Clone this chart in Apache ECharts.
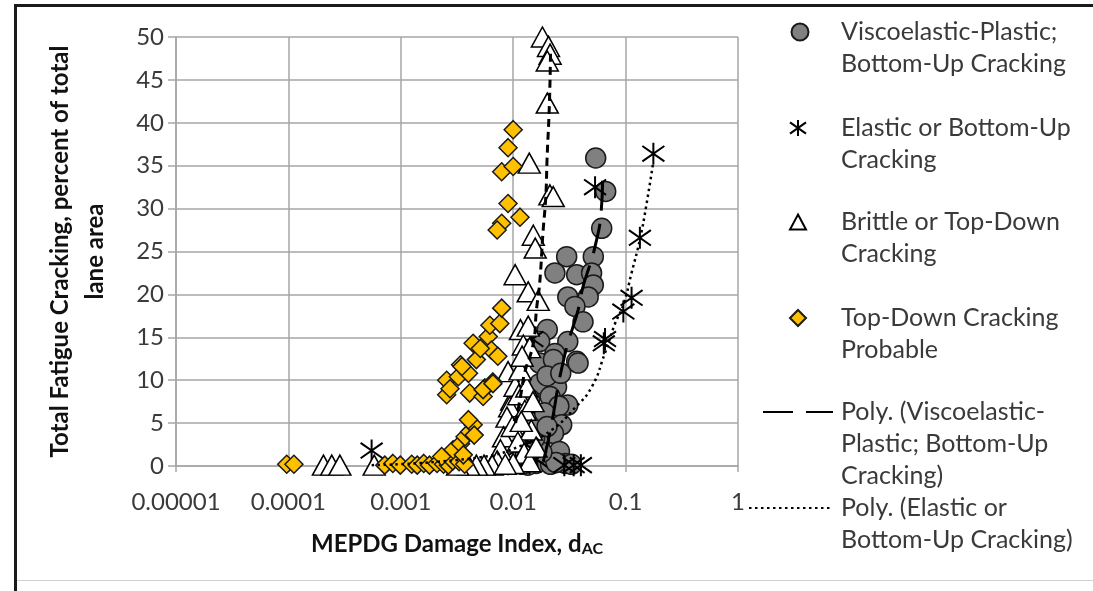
<!DOCTYPE html>
<html>
<head>
<meta charset="utf-8">
<script src="https://cdn.jsdelivr.net/npm/echarts@6/dist/echarts.min.js"></script>
<style>
  html, body { margin: 0; padding: 0; background: #fff; }
  #chart { width: 1093px; height: 591px; }
</style>
</head>
<body>
<div id="chart"></div>
<script>
// tick labels of the log x axis (one per decade)
const xTickLabels = ['0.00001', '0.0001', '0.001', '0.01', '0.1', '1'];

// legend names
const seriesNames = [
  'Viscoelastic-Plastic;\nBottom-Up Cracking',
  'Elastic or Bottom-Up\nCracking',
  'Brittle or Top-Down\nCracking',
  'Top-Down Cracking\nProbable',
  'Poly. (Viscoelastic-\nPlastic; Bottom-Up\nCracking)',
  'Poly. (Elastic or\nBottom-Up Cracking)'
];

// [damage index, cracking %]
const viscoPlastic = [
  [0.0542, 35.9], [0.0665, 32.0], [0.0613, 27.7], [0.0299, 24.4], [0.0516, 24.4],
  [0.0235, 22.5], [0.0367, 22.3], [0.0498, 22.5], [0.0516, 21.1], [0.0306, 19.7],
  [0.0465, 19.7], [0.0354, 18.6], [0.0418, 16.8], [0.0201, 15.9], [0.0306, 14.5],
  [0.0172, 14.5], [0.0235, 13.1], [0.0367, 12.2], [0.0172, 12.0], [0.0228, 12.4],
  [0.0378, 12.0], [0.0172, 9.6], [0.0243, 9.2], [0.0213, 8.1], [0.0306, 7.1],
  [0.0255, 7.0], [0.0270, 4.8], [0.0228, 3.8], [0.0172, 2.6], [0.0258, 1.7],
  [0.0190, 0.8], [0.0160, 0.3], [0.0135, 0.1], [0.0120, 0.2], [0.0215, 0.2],
  [0.0290, 0.3], [0.0150, 4.5], [0.0190, 6.2], [0.0140, 7.8], [0.0200, 10.5],
  [0.0265, 10.8], [0.0330, 0.2], [0.0240, 0.4], [0.0180, 1.6], [0.0155, 3.2],
  [0.0200, 4.6]
];
const elastic = [
  [0.1766, 36.4], [0.0535, 32.5], [0.134, 26.6], [0.113, 19.6], [0.0955, 18.0],
  [0.0656, 14.8], [0.0640, 14.3], [0.0285, 0.1], [0.0345, 0.1], [0.0400, 0.1],
  [0.00055, 1.8], [0.0148, 14.8], [0.0090, 0.2], [0.0105, 0.5], [0.0120, 1.2],
  [0.0130, 2.5], [0.0115, 3.5], [0.0140, 0.3], [0.0160, 0.8], [0.0085, 1.0],
  [0.0125, 7.0]
];
const brittle = [
  [0.000205, 0.1], [0.000243, 0.1], [0.000287, 0.1], [0.00058, 0.1],
  [0.0182, 50.0], [0.0206, 48.9], [0.0213, 48.0], [0.0201, 47.2], [0.0201, 42.3],
  [0.0139, 35.3], [0.0212, 31.6], [0.0227, 31.4], [0.0151, 26.9], [0.0157, 25.4],
  [0.0104, 22.3], [0.0136, 20.3], [0.0167, 19.3], [0.0116, 15.9], [0.0136, 16.3],
  [0.0123, 14.1], [0.0140, 13.8], [0.0090, 11.0], [0.0097, 7.7], [0.0107, 7.6],
  [0.0093, 6.9], [0.0088, 5.7], [0.0082, 3.4], [0.0077, 1.9], [0.0072, 0.6],
  [0.0065, 0.1], [0.0055, 0.1], [0.0047, 0.1], [0.0098, 4.6], [0.0104, 9.3],
  [0.0112, 8.3], [0.0132, 9.2], [0.0127, 6.5], [0.0145, 4.2], [0.0118, 5.2],
  [0.0110, 2.8], [0.0125, 1.5], [0.0140, 0.5], [0.0160, 2.2], [0.0100, 0.3],
  [0.0085, 0.2], [0.0115, 11.2], [0.0120, 12.8], [0.0150, 7.5], [0.0040, 0.1],
  [0.0032, 0.1]
];
const topDown = [
  [0.0000966, 0.2], [0.000112, 0.2],
  [0.00072, 0.1], [0.00085, 0.3], [0.00099, 0.1], [0.00125, 0.2], [0.0014, 0.1],
  [0.0016, 0.3], [0.0018, 0.1], [0.0021, 0.3], [0.0024, 0.2], [0.00265, 0.1],
  [0.0029, 0.6], [0.0033, 0.5], [0.0037, 0.2],
  [0.00231, 1.1], [0.00292, 1.9], [0.0034, 2.6], [0.00373, 3.4], [0.0041, 4.0],
  [0.0044, 4.8], [0.0040, 5.4], [0.0045, 3.6], [0.0036, 1.3],
  [0.00256, 10.0], [0.00256, 8.3], [0.00274, 9.0], [0.00325, 10.4], [0.0034, 11.8],
  [0.0040, 10.8], [0.0041, 8.5], [0.0047, 12.4], [0.0044, 14.3], [0.0056, 9.1],
  [0.0054, 8.1], [0.0060, 15.1], [0.0064, 13.5], [0.0073, 12.8], [0.0066, 9.8],
  [0.0062, 16.4], [0.0076, 16.6], [0.0079, 18.4], [0.0051, 13.7], [0.0035, 11.6],
  [0.0054, 8.9], [0.0066, 9.6],
  [0.0100, 39.2], [0.0090, 37.1], [0.0079, 34.3], [0.0100, 34.9], [0.0090, 30.6],
  [0.0115, 29.0], [0.0079, 28.3], [0.0072, 27.5]
];

// trend lines
const viscoTrend = [
  [0.0185, 0.5], [0.0205, 3.0], [0.0228, 6.1], [0.0250, 9.2], [0.0277, 12.0],
  [0.0306, 14.3], [0.0342, 16.3], [0.0378, 18.2], [0.0418, 20.9], [0.0485, 23.6],
  [0.0535, 25.6], [0.0600, 29.0], [0.0625, 33.6]
];
const elasticTrend = [
  [0.00055, 0.1], [0.005, 1.0], [0.012, 2.4], [0.022, 4.2], [0.0355, 6.8],
  [0.0499, 9.2], [0.0656, 13.2], [0.0805, 16.6], [0.0955, 18.8], [0.113, 22.5],
  [0.134, 26.4], [0.1525, 30.3], [0.1766, 35.5]
];
const brittleTrend = [
  [0.0105, 5.0], [0.0119, 8.9], [0.0126, 10.8], [0.0151, 14.3], [0.0161, 18.2],
  [0.0172, 21.3], [0.0184, 27.2], [0.0195, 31.4], [0.0200, 35.7], [0.0210, 42.3],
  [0.0215, 48.5]
];

const FONT = 'Lato';
const GRID_COLOR = '#a6a6a6';
const TEXT_COLOR = '#3a3a3a';
const asteriskPath = 'path://M10 0L10 20M0 3L20 17M0 17L20 3';

const chart = echarts.init(document.getElementById('chart'));

// one legend block per entry; leading blank lines put the icon on the first text line
function legendEntry(name, iconCenterX, firstLineY, w, h, lines) {
  const left = iconCenterX - w / 2;
  return {
    data: [name],
    left: left,
    top: firstLineY - (2 * lines - 1) * 16,
    orient: 'vertical',
    padding: 0,
    itemWidth: w,
    itemHeight: h,
    selectedMode: false,
    itemStyle: { color: 'rgba(0,0,0,0)', borderColor: 'rgba(0,0,0,0)' },
    formatter: function (n) { return '\n'.repeat(lines - 1) + n; },
    textStyle: {
      fontFamily: FONT,
      fontSize: 25,
      lineHeight: 32,
      color: TEXT_COLOR,
      padding: [0, 0, 0, 840 - (left + w + 5)]
    }
  };
}
function scatterLegend(name, x, y, w, h) {
  const l = legendEntry(name, x, y, w, h, 2);
  delete l.itemStyle;
  return l;
}

const option = {
  animation: false,
  backgroundColor: '#fff',
  grid: { left: 176, right: 355, top: 37, bottom: 125 },
  legend: [
    scatterLegend(seriesNames[0], 799, 32, 17, 17),
    scatterLegend(seriesNames[1], 797, 128, 16, 16),
    scatterLegend(seriesNames[2], 797, 222, 16, 15),
    scatterLegend(seriesNames[3], 797, 318, 16, 16),
    legendEntry(seriesNames[4], 797, 412, 70, 16, 3),
    legendEntry(seriesNames[5], 789, 508, 82, 16, 2)
  ],
  xAxis: {
    type: 'log',
    logBase: 10,
    min: 0.00001,
    max: 1,
    name: 'MEPDG Damage Index, d{sub|AC}',
    nameLocation: 'middle',
    nameGap: 65,
    nameTextStyle: {
      fontFamily: FONT, fontSize: 24, fontWeight: 'bold', color: '#111',
      rich: {
        sub: { fontFamily: FONT, fontSize: 16, fontWeight: 'bold', color: '#111', verticalAlign: 'bottom', padding: [10, 0, 0, 0] }
      }
    },
    axisLine: { show: true, lineStyle: { color: GRID_COLOR, width: 1.5 } },
    axisTick: { show: true, length: 6, lineStyle: { color: GRID_COLOR, width: 1.5 } },
    splitLine: { show: true, lineStyle: { color: GRID_COLOR, width: 1.5 } },
    axisLabel: {
      margin: 24,
      fontFamily: FONT,
      fontSize: 24,
      color: TEXT_COLOR,
      formatter: function (v) {
        return xTickLabels[Math.round(Math.log10(v)) + 5];
      }
    }
  },
  yAxis: {
    type: 'value',
    min: 0,
    max: 50,
    interval: 5,
    name: 'Total Fatigue Cracking, percent of total\nlane area',
    nameLocation: 'middle',
    nameRotate: 90,
    nameGap: 63,
    nameTextStyle: { fontFamily: FONT, fontSize: 24, fontWeight: 'bold', color: '#111', lineHeight: 35 },
    axisLine: { show: true, lineStyle: { color: GRID_COLOR, width: 1.5 } },
    axisTick: { show: true, length: 8, lineStyle: { color: GRID_COLOR, width: 1.5 } },
    splitLine: { show: true, lineStyle: { color: GRID_COLOR, width: 1.5 } },
    axisLabel: { margin: 12, fontFamily: FONT, fontSize: 24, color: TEXT_COLOR }
  },
  series: [
    {
      name: seriesNames[0], type: 'scatter', data: viscoPlastic,
      symbol: 'circle', symbolSize: 20,
      itemStyle: { color: '#808080', borderColor: '#1a1a1a', borderWidth: 1.5, opacity: 1 }
    },
    {
      name: seriesNames[1], type: 'scatter', data: elastic,
      symbol: asteriskPath, symbolSize: 22,
      itemStyle: { color: '#000', borderColor: '#000', borderWidth: 2, opacity: 1 }
    },
    {
      name: seriesNames[2], type: 'scatter', data: brittle,
      symbol: 'triangle', symbolSize: [22, 20],
      itemStyle: { color: '#fff', borderColor: '#000', borderWidth: 1.5, opacity: 1 }
    },
    {
      name: seriesNames[3], type: 'scatter', data: topDown,
      symbol: 'diamond', symbolSize: 18,
      itemStyle: { color: '#ffc000', borderColor: '#1a1a1a', borderWidth: 1.5, opacity: 1 }
    },
    {
      name: 'brittle trend', type: 'line', data: brittleTrend, smooth: true,
      symbol: 'none', z: 5,
      lineStyle: { color: '#000', width: 3, type: [8, 5] }
    },
    {
      name: seriesNames[4], type: 'line', data: viscoTrend, smooth: true,
      symbol: 'none', z: 5, color: '#000',
      lineStyle: { color: '#000', width: 3, type: [30, 13] }
    },
    {
      name: seriesNames[5], type: 'line', data: elasticTrend, smooth: true,
      symbol: 'none', z: 5, color: '#000',
      lineStyle: { color: '#000', width: 2.5, type: [2.5, 3.5] }
    }
  ],
  graphic: [
    { type: 'rect', shape: { x: 14, y: 4, width: 3, height: 587 }, style: { fill: '#1a1a1a' } },
    { type: 'rect', shape: { x: 14, y: 4, width: 1079, height: 3 }, style: { fill: '#1a1a1a' } },
    { type: 'rect', shape: { x: 17, y: 580, width: 1076, height: 1 }, style: { fill: '#d0d0d0' } }
  ]
};

chart.setOption(option);
</script>
</body>
</html>
